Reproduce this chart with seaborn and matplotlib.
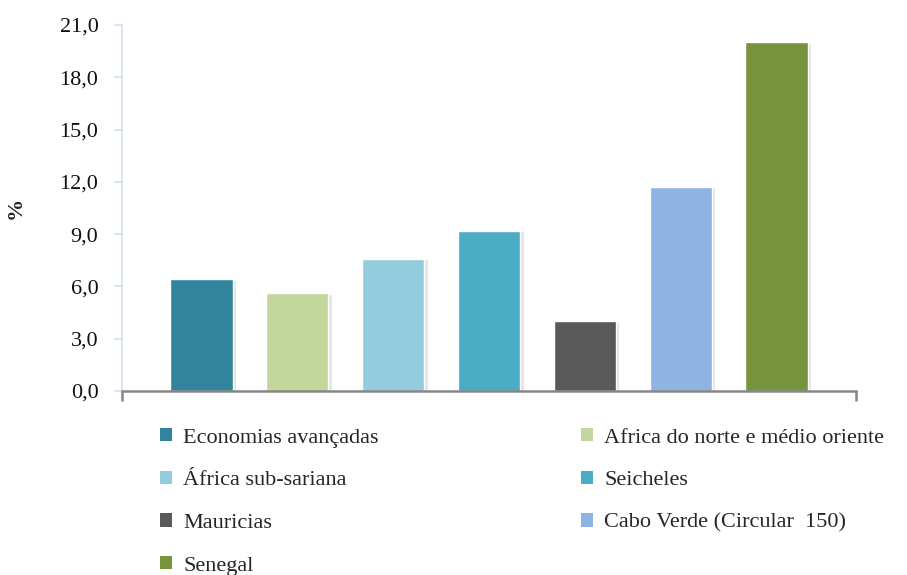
import matplotlib
matplotlib.use("Agg")
import matplotlib.pyplot as plt
import matplotlib.patheffects as pe
from matplotlib.patches import Patch
import seaborn as sns
import pandas as pd

categories = ["Economias avançadas", "Africa do norte e médio oriente", "África sub-sariana",
              "Seicheles", "Mauricias", "Cabo Verde (Circular  150)", "Senegal"]
values = [6.4, 5.6, 7.6, 9.2, 4.0, 11.7, 20.0]
colors = ["#31849b", "#c3d69b", "#93cddd", "#4bacc6", "#595959", "#8eb4e3", "#77933c"]
yticks = [0, 3, 6, 9, 12, 15, 18, 21]
ytick_labels = ["0,0", "3,0", "6,0", "9,0", "12,0", "15,0", "18,0", "21,0"]

sns.set_theme(style="white")
plt.rcParams["font.family"] = ["Liberation Serif", "DejaVu Serif"]

df = pd.DataFrame({"cat": categories, "val": values})

fig = plt.figure(figsize=(9.07, 5.75), dpi=100)
ax = fig.add_axes([122/907, 1-391/575, (856-122)/907, (391-25)/575])

sns.barplot(data=df, x="cat", y="val", hue="cat", palette=colors, width=0.65,
            legend=False, ax=ax, saturation=1, order=categories, hue_order=categories)
for p in ax.patches:
    p.set_path_effects([pe.SimplePatchShadow(offset=(2.5, -1.0), shadow_rgbFace="#000000", alpha=0.10),
                        pe.Normal()])

ax.set_xlim(-0.83, 6.83)
ax.set_ylim(0, 21)
ax.set_yticks(yticks)
ax.set_yticklabels(ytick_labels, fontsize=16, color="#111111")
ax.set_xticks([-0.83, 6.83])
ax.set_xticklabels([])
ax.set_xlabel("")
ax.set_ylabel("%", fontsize=16, fontweight="bold")
ax.yaxis.set_label_coords(-0.131, 0.5)

for s in ["top", "right"]:
    ax.spines[s].set_visible(False)
ax.spines["left"].set_color("#d3dff0")
ax.spines["left"].set_linewidth(1.2)
ax.spines["bottom"].set_color("#868686")
ax.spines["bottom"].set_linewidth(1.8)
ax.tick_params(axis="y", which="both", left=True, length=6, width=1.2, color="#d3dff0", pad=11)
ax.tick_params(axis="x", which="both", bottom=True, length=7, width=1.8, color="#868686")

handles = [Patch(facecolor=c, edgecolor="none") for c in colors]
order = [0, 2, 4, 6, 1, 3, 5]
leg = fig.legend([handles[i] for i in order], [categories[i] for i in order],
                 ncol=2, loc="upper left", bbox_to_anchor=(160/907, 1-428/575),
                 frameon=False, fontsize=16, handlelength=0.55, handleheight=0.55,
                 handletextpad=0.5, columnspacing=9.1, labelspacing=1.04,
                 borderaxespad=0, borderpad=0)

fig.savefig("out.png", dpi=100)
